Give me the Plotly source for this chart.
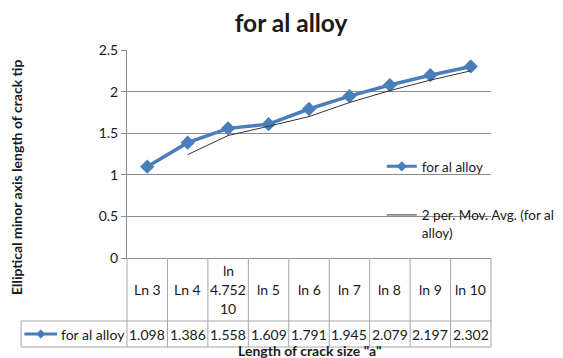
import plotly.graph_objects as go

# ---- data ----
categories = ["Ln 3", "Ln 4", "ln 4.752 10", "ln 5", "ln 6", "ln 7", "ln 8", "ln 9", "ln 10"]
category_labels = ["Ln 3", "Ln 4", "ln<br>4.752<br>10", "ln 5", "ln 6", "ln 7", "ln 8", "ln 9", "ln 10"]
values = [1.098, 1.386, 1.558, 1.609, 1.791, 1.945, 2.079, 2.197, 2.302]
mov_avg = [None, 1.242, 1.472, 1.5835, 1.700, 1.868, 2.012, 2.138, 2.2495]
y_ticks = [0, 0.5, 1, 1.5, 2, 2.5]
series_name = "for al alloy"
trend_name = "2 per. Mov. Avg. (for al<br>alloy)"

FONT = "Lato"
FS = 14
BLUE = "#4A7EBB"
GRID = "#8c8c8c"
BORDER = "#a6a6a6"
TXT = "#1a1a1a"

fig = go.Figure()
fig.add_trace(go.Scatter(
    x=categories, y=values, name=series_name, mode="lines+markers",
    line=dict(color=BLUE, width=3.5),
    marker=dict(symbol="diamond", size=11, color=BLUE),
    showlegend=False,
))
# legend entry (smaller key marker, as in the reference legend)
fig.add_trace(go.Scatter(
    x=[None], y=[None], name=series_name, mode="lines+markers",
    line=dict(color=BLUE, width=3),
    marker=dict(symbol="diamond", size=8, color=BLUE),
    legendgroup="a",
))
fig.add_trace(go.Scatter(
    x=categories, y=mov_avg, name=trend_name, mode="lines",
    line=dict(color="#333333", width=1),
    legendgroup="b",
))

# table geometry (paper units relative to plot area)
row1_bottom = -0.303
row2_bottom = -0.428
key_left = -0.291
n = len(categories)

shapes = []
for i in range(n + 1):
    shapes.append(dict(type="line", xref="x domain", yref="paper",
                       x0=i / n, x1=i / n, y0=0, y1=row2_bottom,
                       line=dict(color=BORDER, width=1)))
for yy in (row1_bottom, row2_bottom):
    shapes.append(dict(type="line", xref="paper", yref="paper",
                       x0=key_left, x1=1, y0=yy, y1=yy,
                       line=dict(color=BORDER, width=1)))
shapes.append(dict(type="line", xref="paper", yref="paper",
                   x0=key_left, x1=key_left, y0=row1_bottom, y1=row2_bottom,
                   line=dict(color=BORDER, width=1)))
# legend key inside the table
key_y = (row1_bottom + row2_bottom) / 2
shapes.append(dict(type="line", xref="paper", yref="paper",
                   x0=-0.282, x1=-0.192, y0=key_y, y1=key_y,
                   line=dict(color=BLUE, width=3)))
dx, dy = 0.011, 0.02
cx = -0.237
shapes.append(dict(type="path", xref="paper", yref="paper",
                   path=f"M {cx-dx},{key_y} L {cx},{key_y+dy} L {cx+dx},{key_y} L {cx},{key_y-dy} Z",
                   fillcolor=BLUE, line=dict(color=BLUE, width=1)))

cell_font = dict(family=FONT, size=FS, color=TXT)
LINE_H = 19
annotations = []
for cat, lab, v in zip(categories, category_labels, values):
    lines = lab.split("<br>")
    for k, ln in enumerate(lines):
        annotations.append(dict(x=cat, xref="x", y=row1_bottom / 2, yref="paper",
                                xanchor="center", yanchor="middle",
                                yshift=((len(lines) - 1) / 2 - k) * LINE_H,
                                text=ln, showarrow=False, font=cell_font))
    annotations.append(dict(x=cat, xref="x", y=key_y, yref="paper",
                            xanchor="center", yanchor="middle",
                            text=f"{v:.3f}", showarrow=False, font=cell_font))
annotations.append(dict(x=-0.187, xref="paper", y=key_y, yref="paper",
                        xanchor="left", yanchor="middle", text=series_name, showarrow=False,
                        font=cell_font))
annotations.append(dict(x=0.5, xref="paper", y=-0.447, yref="paper",
                        xanchor="center", yanchor="middle",
                        text='Length of crack size "a"', showarrow=False,
                        font=dict(family=FONT, size=FS, color=TXT, weight="bold")))
annotations.append(dict(x=-0.305, xref="paper", y=0.389, yref="paper",
                        xanchor="center", yanchor="middle",
                        text="Elliptical minor axis length of crack tip", textangle=-90,
                        showarrow=False,
                        font=dict(family=FONT, size=FS, color=TXT, weight="bold")))

# page body has an 8px default margin, so the figure is 8px smaller
fig.update_layout(
    width=555, height=350,
    margin=dict(l=119, r=72, t=42, b=100, autoexpand=False),
    paper_bgcolor="white", plot_bgcolor="white",
    title=dict(text="for al alloy", x=0.51, xanchor="center", y=0.9557, yanchor="middle",
               font=dict(family=FONT, size=24.5, color=TXT, weight="bold")),
    xaxis=dict(type="category", range=[-0.5, n - 0.5], showticklabels=False,
               showgrid=False, showline=True, linecolor=GRID, linewidth=1,
               zeroline=False, ticks=""),
    yaxis=dict(range=[0, 2.5], tickvals=y_ticks, ticktext=[f"{t:g}" for t in y_ticks],
               showgrid=True, gridcolor=GRID, gridwidth=1,
               showline=True, linecolor=GRID, linewidth=1, zeroline=False,
               ticks="outside", ticklen=5, tickcolor=GRID,
               tickfont=dict(family=FONT, size=FS, color=TXT)),
    showlegend=True,
    legend=dict(x=0.70, y=0.514, xanchor="left", yanchor="top",
                bgcolor="rgba(0,0,0,0)", font=dict(family=FONT, size=13.5, color=TXT),
                tracegroupgap=28, traceorder="grouped", valign="top"),
    shapes=shapes, annotations=annotations,
)

fig.write_html("out.html")
